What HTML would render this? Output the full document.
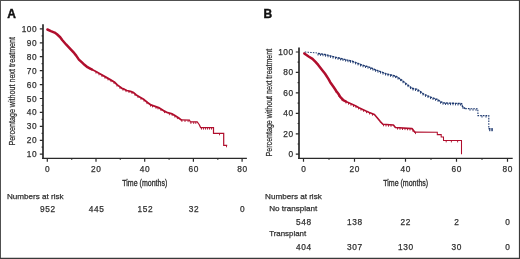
<!DOCTYPE html>
<html><head><meta charset="utf-8"><style>
html,body{margin:0;padding:0;background:#fff;}
body{width:520px;height:259px;position:relative;overflow:hidden;font-family:"Liberation Sans",sans-serif;}
svg text{font-family:"Liberation Sans",sans-serif;stroke:#303030;stroke-width:.25px;}
</style></head><body>
<svg width="520" height="259" viewBox="0 0 520 259" style="position:absolute;left:0;top:0;will-change:transform">
<path d="M0,0.5H520M0.5,0V259" stroke="#505050" stroke-width="1" fill="none"/>
<path d="M0,258.4H520M519.5,0V259" stroke="#3a3a3a" stroke-width="1.2" fill="none"/>
<text x="7.3" y="18.1" font-size="12" font-weight="bold" fill="#111" style="stroke:#111;stroke-width:.4px">A</text>
<text x="263.5" y="17.9" font-size="12" font-weight="bold" fill="#111" style="stroke:#111;stroke-width:.4px">B</text>
<path d="M43.0,24.3 V158.9" fill="none" stroke="#2a2a2a" stroke-width="1.7"/>
<path d="M42.2,158.3 H246.9" fill="none" stroke="#2a2a2a" stroke-width="1.35"/>
<path d="M39.8,154.2H43.0M41.6,147.2H43.0M39.8,140.3H43.0M41.6,133.3H43.0M39.8,126.3H43.0M41.6,119.4H43.0M39.8,112.4H43.0M41.6,105.5H43.0M39.8,98.5H43.0M41.6,91.5H43.0M39.8,84.6H43.0M41.6,77.6H43.0M39.8,70.7H43.0M41.6,63.7H43.0M39.8,56.7H43.0M41.6,49.8H43.0M39.8,42.8H43.0M41.6,35.9H43.0M39.8,28.9H43.0M47.3,158.3V161.7M71.7,158.3V159.8M96.0,158.3V161.7M120.3,158.3V159.8M144.7,158.3V161.7M169.1,158.3V159.8M193.4,158.3V161.7M217.8,158.3V159.8M242.1,158.3V161.7" stroke="#2a2a2a" stroke-width="1.2" fill="none"/>
<text x="37.3" y="157.1" font-size="8.3" letter-spacing="0.6" text-anchor="end" fill="#303030">10</text>
<text x="37.3" y="143.2" font-size="8.3" letter-spacing="0.6" text-anchor="end" fill="#303030">20</text>
<text x="37.3" y="129.3" font-size="8.3" letter-spacing="0.6" text-anchor="end" fill="#303030">30</text>
<text x="37.3" y="115.4" font-size="8.3" letter-spacing="0.6" text-anchor="end" fill="#303030">40</text>
<text x="37.3" y="101.5" font-size="8.3" letter-spacing="0.6" text-anchor="end" fill="#303030">50</text>
<text x="37.3" y="87.5" font-size="8.3" letter-spacing="0.6" text-anchor="end" fill="#303030">60</text>
<text x="37.3" y="73.6" font-size="8.3" letter-spacing="0.6" text-anchor="end" fill="#303030">70</text>
<text x="37.3" y="59.7" font-size="8.3" letter-spacing="0.6" text-anchor="end" fill="#303030">80</text>
<text x="37.3" y="45.8" font-size="8.3" letter-spacing="0.6" text-anchor="end" fill="#303030">90</text>
<text x="37.3" y="31.8" font-size="8.3" letter-spacing="0.6" text-anchor="end" fill="#303030">100</text>
<text x="47.6" y="172.2" font-size="8.3" letter-spacing="0.6" text-anchor="middle" fill="#303030">0</text>
<text x="96.3" y="172.2" font-size="8.3" letter-spacing="0.6" text-anchor="middle" fill="#303030">20</text>
<text x="145.0" y="172.2" font-size="8.3" letter-spacing="0.6" text-anchor="middle" fill="#303030">40</text>
<text x="193.7" y="172.2" font-size="8.3" letter-spacing="0.6" text-anchor="middle" fill="#303030">60</text>
<text x="242.4" y="172.2" font-size="8.3" letter-spacing="0.6" text-anchor="middle" fill="#303030">80</text>
<text transform="translate(144.75,185.7) scale(0.74,1)" font-size="9.5" text-anchor="middle" fill="#303030" style="stroke-width:.35px">Time (months)</text>
<text transform="translate(15.3,91.3) rotate(-90) scale(0.752,1)" font-size="9.5" text-anchor="middle" fill="#303030" style="stroke-width:.25px">Percentage without next treatment</text>
<text x="7.0" y="198.9" font-size="8.1" fill="#303030">Numbers at risk</text>
<text x="47.9" y="212.4" font-size="8.3" letter-spacing="0.6" text-anchor="middle" fill="#303030">952</text>
<text x="96.6" y="212.4" font-size="8.3" letter-spacing="0.6" text-anchor="middle" fill="#303030">445</text>
<text x="145.3" y="212.4" font-size="8.3" letter-spacing="0.6" text-anchor="middle" fill="#303030">152</text>
<text x="194.0" y="212.4" font-size="8.3" letter-spacing="0.6" text-anchor="middle" fill="#303030">32</text>
<text x="242.7" y="212.4" font-size="8.3" letter-spacing="0.6" text-anchor="middle" fill="#303030">0</text>
<polyline points="47.4,29.5 50.9,31.1 54.6,32.6 57.0,34.3 60.2,37.2 62.2,40.0 66.3,44.7 70.5,49.1 74.3,53.2 76.2,55.6 78.9,59.6 81.7,62.2 84.5,64.8 87.5,67.2 90.2,68.6 92.0,69.5" fill="none" stroke="#b00e2d" stroke-width="2.5" stroke-linejoin="round" stroke-linecap="round"/>
<polyline points="91.0,69.0 95.0,71.0 99.9,73.8 105.4,76.9 110.2,79.6 114.3,82.0 117.3,84.9 121.9,88.3 124.2,89.2 126.8,90.5 130.5,91.4 133.6,92.6 136.3,95.0 140.5,97.5 144.0,99.6 147.5,102.5 150.9,104.9 154.4,106.1 159.3,107.9 163.4,110.6 167.6,112.7 172.2,113.9 174.9,115.6 178.4,117.7 181.2,119.9" fill="none" stroke="#b00e2d" stroke-width="1.8" stroke-linejoin="round" stroke-linecap="round"/>
<polyline points="181.2,119.9 189.5,120.1 190.3,121.9 197.2,121.9 199.3,124.7 200.6,127.6 213.5,127.6 213.5,133.3 223.7,133.3 223.7,145.3 227.2,145.3" fill="none" stroke="#b00e2d" stroke-width="1.2"/>
<path d="M96.0,71.6v2.0M99.0,73.3v2.0M102.0,75.0v2.0M105.0,76.7v2.0M108.0,78.4v2.0M111.0,80.1v2.0M114.0,81.8v2.0M117.0,84.6v2.0M120.0,86.9v2.0M123.0,88.7v2.0M126.0,90.1v2.0M129.0,91.0v2.0M132.0,92.0v2.0M135.0,93.8v2.0M138.0,96.0v2.0M141.0,97.8v2.0M144.0,99.6v2.0M147.0,102.1v2.0M150.5,104.6v2.0M152.5,105.4v2.0M156.0,106.7v2.0M158.0,107.4v2.0M161.0,109.0v2.0M164.5,111.1v2.0M169.4,113.2v2.0M172.2,113.9v2.0M174.9,115.6v2.0M177.4,117.1v2.0M181.9,119.9v2.0M185.0,120.0v2.0M188.1,120.1v2.0M190.9,121.9v2.0M193.7,121.9v2.0M195.8,121.9v2.0M201.5,127.6v2.0M203.5,127.6v2.0M205.5,127.6v2.0M207.5,127.6v2.0M209.5,127.6v2.0M211.5,127.6v2.0M219.5,133.3v2.0M226.5,145.3v2.0" stroke="#b00e2d" stroke-width="0.9" fill="none"/>
<path d="M299.0,47.5 V158.95" fill="none" stroke="#2a2a2a" stroke-width="1.7"/>
<path d="M298.2,158.35 H512.7" fill="none" stroke="#2a2a2a" stroke-width="1.35"/>
<path d="M295.8,154.2H299.0M297.6,144.0H299.0M295.8,133.8H299.0M297.6,123.5H299.0M295.8,113.3H299.0M297.6,103.1H299.0M295.8,92.9H299.0M297.6,82.7H299.0M295.8,72.4H299.0M297.6,62.2H299.0M295.8,52.0H299.0M303.5,158.35V161.8M329.0,158.35V159.8M354.5,158.35V161.8M380.0,158.35V159.8M405.5,158.35V161.8M431.0,158.35V159.8M456.5,158.35V161.8M482.0,158.35V159.8M507.5,158.35V161.8" stroke="#2a2a2a" stroke-width="1.2" fill="none"/>
<text x="293.8" y="157.1" font-size="8.3" letter-spacing="0.6" text-anchor="end" fill="#303030">0</text>
<text x="293.8" y="136.7" font-size="8.3" letter-spacing="0.6" text-anchor="end" fill="#303030">20</text>
<text x="293.8" y="116.3" font-size="8.3" letter-spacing="0.6" text-anchor="end" fill="#303030">40</text>
<text x="293.8" y="95.8" font-size="8.3" letter-spacing="0.6" text-anchor="end" fill="#303030">60</text>
<text x="293.8" y="75.4" font-size="8.3" letter-spacing="0.6" text-anchor="end" fill="#303030">80</text>
<text x="293.8" y="55.0" font-size="8.3" letter-spacing="0.6" text-anchor="end" fill="#303030">100</text>
<text x="303.8" y="172.2" font-size="8.3" letter-spacing="0.6" text-anchor="middle" fill="#303030">0</text>
<text x="354.8" y="172.2" font-size="8.3" letter-spacing="0.6" text-anchor="middle" fill="#303030">20</text>
<text x="405.8" y="172.2" font-size="8.3" letter-spacing="0.6" text-anchor="middle" fill="#303030">40</text>
<text x="456.8" y="172.2" font-size="8.3" letter-spacing="0.6" text-anchor="middle" fill="#303030">60</text>
<text x="507.8" y="172.2" font-size="8.3" letter-spacing="0.6" text-anchor="middle" fill="#303030">80</text>
<text transform="translate(405.7,186.2) scale(0.74,1)" font-size="9.5" text-anchor="middle" fill="#303030" style="stroke-width:.35px">Time (months)</text>
<text transform="translate(271.6,102.6) rotate(-90) scale(0.745,1)" font-size="9.5" text-anchor="middle" fill="#303030" style="stroke-width:.25px">Percentage without next treatment</text>
<text x="265.1" y="199.0" font-size="8.1" fill="#303030">Numbers at risk</text>
<text x="269.2" y="211.4" font-size="8.1" fill="#303030">No transplant</text>
<text x="269.2" y="236.4" font-size="7.9" fill="#303030">Transplant</text>
<text x="303.8" y="224.8" font-size="8.3" letter-spacing="0.6" text-anchor="middle" fill="#303030">548</text>
<text x="354.8" y="224.8" font-size="8.3" letter-spacing="0.6" text-anchor="middle" fill="#303030">138</text>
<text x="405.8" y="224.8" font-size="8.3" letter-spacing="0.6" text-anchor="middle" fill="#303030">22</text>
<text x="456.8" y="224.8" font-size="8.3" letter-spacing="0.6" text-anchor="middle" fill="#303030">2</text>
<text x="507.8" y="224.8" font-size="8.3" letter-spacing="0.6" text-anchor="middle" fill="#303030">0</text>
<text x="303.8" y="250.2" font-size="8.3" letter-spacing="0.6" text-anchor="middle" fill="#303030">404</text>
<text x="354.8" y="250.2" font-size="8.3" letter-spacing="0.6" text-anchor="middle" fill="#303030">307</text>
<text x="405.8" y="250.2" font-size="8.3" letter-spacing="0.6" text-anchor="middle" fill="#303030">130</text>
<text x="456.8" y="250.2" font-size="8.3" letter-spacing="0.6" text-anchor="middle" fill="#303030">30</text>
<text x="507.8" y="250.2" font-size="8.3" letter-spacing="0.6" text-anchor="middle" fill="#303030">0</text>
<polyline points="304.3,53.4 309.0,56.7 312.5,58.9 315.5,61.9 318.2,64.9 321.5,69.2 324.9,73.5 328.4,78.9 330.2,82.2 333.6,87.0 336.4,91.2 338.5,94.0 340.2,96.9 343.6,100.3 346.0,101.5" fill="none" stroke="#b00e2d" stroke-width="2.5" stroke-linejoin="round" stroke-linecap="round"/>
<polyline points="345.0,101.0 347.1,102.1 355.4,105.8 359.0,107.7 363.2,109.7 366.0,111.0 369.3,112.4 374.4,114.4 377.4,117.9 380.3,121.6 382.9,124.3 393.4,125.0 395.4,127.5 412.0,128.6 414.7,132.1" fill="none" stroke="#b00e2d" stroke-width="1.6" stroke-linejoin="round" stroke-linecap="round"/>
<polyline points="414.7,132.1 437.3,132.2 437.3,134.6 441.2,134.6 441.2,137.0 443.5,137.0 443.5,140.4 461.5,140.4 461.5,154.3" fill="none" stroke="#b00e2d" stroke-width="1.05"/>
<path d="M336.0,90.6v2.0M339.0,94.9v2.0M342.0,98.7v2.0M346.0,101.5v2.0M348.5,102.7v2.0M351.0,103.8v2.0M353.5,105.0v2.0M356.0,106.1v2.0M358.5,107.4v2.0M361.0,108.7v2.0M363.5,109.8v2.0M366.5,111.2v2.0M369.5,112.5v2.0M372.5,113.7v2.0M383.5,124.3v2.0M386.0,124.5v2.0M388.5,124.7v2.0M391.0,124.8v2.0M397.5,127.6v2.0M400.0,127.8v2.0M402.5,128.0v2.0M405.0,128.1v2.0M407.5,128.3v2.0M410.0,128.5v2.0M413.0,129.9v2.0M415.5,132.1v2.0M446.2,140.4v2.0M451.4,140.4v2.0M457.6,140.4v2.0" stroke="#b00e2d" stroke-width="0.9" fill="none"/>
<polyline points="304.8,52.0 316.7,52.9 318.0,53.5" fill="none" stroke="#1f3a70" stroke-width="1.0" stroke-dasharray="1.5 1.2"/>
<polyline points="318.0,53.5 324.9,54.5 331.9,56.3 338.8,58.0 345.8,59.7 352.7,61.3 361.6,64.9 368.5,66.8 374.8,69.5 386.3,73.8 395.6,76.1 400.2,78.9 405.0,82.8 408.5,85.5 412.0,88.3 416.8,89.2 420.4,91.6 423.9,94.2 430.8,97.2 437.8,99.6 440.4,101.7 443.6,102.9 461.7,103.6 462.4,106.4 465.2,108.6" fill="none" stroke="#1f3a70" stroke-width="1.4" stroke-dasharray="2.2 0.7" stroke-linejoin="round"/>
<polyline points="465.2,108.6 477.8,108.8 478.0,115.6 488.8,115.6 488.8,128.6 492.6,128.6" fill="none" stroke="#1f3a70" stroke-width="1.1" stroke-dasharray="1.6 1.1"/>
<path d="M318.0,53.5v2.0M320.5,53.9v2.0M323.0,54.2v2.0M325.5,54.7v2.0M328.0,55.3v2.0M330.5,55.9v2.0M333.0,56.6v2.0M335.5,57.2v2.0M338.0,57.8v2.0M340.5,58.4v2.0M343.0,59.0v2.0M345.5,59.6v2.0M348.0,60.2v2.0M350.5,60.8v2.0M353.0,61.4v2.0M355.5,62.4v2.0M358.0,63.4v2.0M360.5,64.5v2.0M363.0,65.3v2.0M365.5,66.0v2.0M368.0,66.7v2.0M370.5,67.7v2.0M373.0,68.7v2.0M375.5,69.8v2.0M378.0,70.7v2.0M380.5,71.6v2.0M383.0,72.6v2.0M385.5,73.5v2.0M388.0,74.2v2.0M390.5,74.8v2.0M393.0,75.5v2.0M395.5,76.1v2.0M398.0,77.6v2.0M400.5,79.1v2.0M403.0,81.2v2.0M405.5,83.2v2.0M408.0,85.1v2.0M410.5,87.1v2.0M413.0,88.5v2.0M415.5,89.0v2.0M418.0,90.0v2.0M420.5,91.7v2.0M423.0,93.5v2.0M425.5,94.9v2.0M428.0,96.0v2.0M430.5,97.1v2.0M433.0,98.0v2.0M435.5,98.8v2.0M438.0,99.8v2.0M440.5,101.7v2.0M443.0,102.7v2.0M445.5,103.0v2.0M448.0,103.1v2.0M450.5,103.2v2.0M453.0,103.3v2.0M455.5,103.4v2.0M458.0,103.5v2.0M460.5,103.6v2.0M463.0,106.9v2.0M470.0,108.7v2.0M473.0,108.7v2.0M476.0,108.8v2.0M482.0,115.6v2.0M486.0,115.6v2.0" stroke="#1f3a70" stroke-width="0.9" fill="none"/>
<path d="M489.6,128.6v2.6M491.2,128.6v2.6M492.4,128.6v2.6" stroke="#1f3a70" stroke-width="0.9" fill="none"/>
</svg>
</body></html>
